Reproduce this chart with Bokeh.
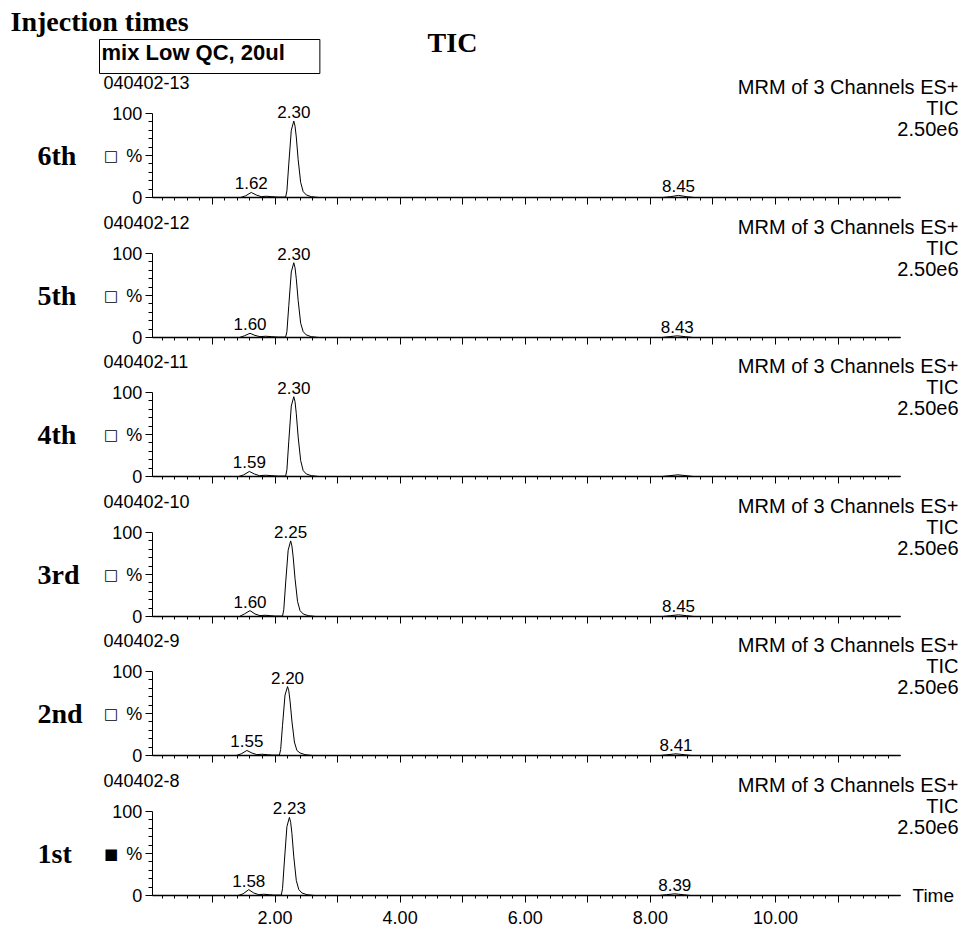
from bokeh.plotting import figure
from bokeh.layouts import column
from bokeh.models import Range1d, FixedTicker, Label, LinearAxis
from bokeh.embed import file_html
from bokeh.resources import INLINE

SANS = "Liberation Sans"
SERIF = "Liberation Serif"

# ---------------- data ----------------
injection_order = ["6th", "5th", "4th", "3rd", "2nd", "1st"]
run_ids = ["040402-13", "040402-12", "040402-11", "040402-10", "040402-9", "040402-8"]
markers = ["\u25a1", "\u25a1", "\u25a1", "\u25a1", "\u25a1", "\u25a0"]
header_lines = ["MRM of 3 Channels ES+", "TIC", "2.50e6"]
title_left = "Injection times"
title_mid = "TIC"
sample_name = "mix Low QC, 20ul"

x_major_ticks = [1, 2, 3, 4, 5, 6, 7, 8, 9, 10, 11]
x_minor_ticks = [0.2, 0.4, 0.6, 0.8, 1.2, 1.4, 1.6, 1.8, 2.2, 2.4, 2.6, 2.8,
                 3.2, 3.4, 3.6, 3.8, 4.2, 4.4, 4.6, 4.8, 5.2, 5.4, 5.6, 5.8,
                 6.2, 6.4, 6.6, 6.8, 7.2, 7.4, 7.6, 7.8, 8.2, 8.4, 8.6, 8.8,
                 9.2, 9.4, 9.6, 9.8, 10.2, 10.4, 10.6, 10.8, 11.2, 11.4, 11.6, 11.8]
x_tick_labels = {1: "", 2: "2.00", 3: "", 4: "4.00", 5: "", 6: "6.00",
                 7: "", 8: "8.00", 9: "", 10: "10.00", 11: ""}
y_major_ticks = [0, 50, 100]
y_minor_ticks = [10, 20, 30, 40, 60, 70, 80, 90]
y_tick_labels = {0: "0", 50: "%", 100: "100"}

# retention time (min) / relative intensity (%)
t_6th = [0.04, 1.45, 1.53, 1.62, 1.70, 1.78, 1.86, 1.95, 2.05, 2.17, 2.19, 2.22, 2.26, 2.30,
         2.32, 2.34, 2.37, 2.41, 2.45, 2.50, 2.58, 2.70, 8.20, 8.32, 8.45, 8.58, 8.70, 12.0]
v_6th = [0, 0, 2, 6, 3, 1, 1.5, 1, 0.5, 0.5, 8, 40, 80, 91,
         85, 72, 45, 18, 7, 3, 1, 0, 0, 1, 2.5, 1, 0, 0]

t_5th = [0.04, 1.43, 1.51, 1.60, 1.68, 1.76, 1.85, 1.95, 2.05, 2.17, 2.19, 2.22, 2.26, 2.30,
         2.32, 2.34, 2.37, 2.41, 2.45, 2.50, 2.58, 2.70, 8.18, 8.30, 8.43, 8.56, 8.68, 12.0]
v_5th = [0, 0, 2, 5, 2.5, 1, 1.5, 1, 0.5, 0.5, 7, 38, 78, 89,
         83, 70, 44, 17, 7, 3, 1, 0, 0, 1, 2, 1, 0, 0]

t_4th = [0.04, 1.42, 1.50, 1.59, 1.67, 1.75, 1.85, 1.95, 2.05, 2.17, 2.19, 2.22, 2.26, 2.30,
         2.32, 2.34, 2.37, 2.41, 2.45, 2.50, 2.58, 2.70, 8.19, 8.31, 8.44, 8.57, 8.69, 12.0]
v_4th = [0, 0, 2, 6, 3, 1, 1.5, 1, 0.5, 0.5, 8, 42, 84, 95,
         89, 75, 47, 19, 7, 3, 1, 0, 0, 1, 2, 1, 0, 0]

t_3rd = [0.04, 1.43, 1.51, 1.60, 1.68, 1.76, 1.84, 1.93, 2.00, 2.12, 2.14, 2.17, 2.21, 2.25,
         2.27, 2.29, 2.32, 2.36, 2.40, 2.45, 2.53, 2.65, 8.20, 8.32, 8.45, 8.58, 8.70, 12.0]
v_3rd = [0, 0, 3, 7, 3, 1, 1.5, 1, 0.5, 0.5, 8, 40, 79, 90,
         84, 71, 45, 18, 7, 3, 1, 0, 0, 1, 2, 1, 0, 0]

t_2nd = [0.04, 1.38, 1.46, 1.55, 1.63, 1.71, 1.79, 1.88, 1.95, 2.07, 2.09, 2.12, 2.16, 2.20,
         2.22, 2.24, 2.27, 2.31, 2.35, 2.40, 2.48, 2.60, 8.16, 8.28, 8.41, 8.54, 8.66, 12.0]
v_2nd = [0, 0, 2, 6, 3, 1, 1.5, 1, 0.5, 0.5, 7, 36, 72, 82,
         77, 65, 41, 16, 6, 3, 1, 0, 0, 1, 2, 1, 0, 0]

t_1st = [0.04, 1.41, 1.49, 1.58, 1.66, 1.74, 1.82, 1.91, 1.98, 2.10, 2.12, 2.15, 2.19, 2.23,
         2.25, 2.27, 2.30, 2.34, 2.38, 2.43, 2.51, 2.63, 8.14, 8.26, 8.39, 8.52, 8.64, 12.0]
v_1st = [0, 0, 2, 7, 3, 1, 1.5, 1, 0.5, 0.5, 8, 41, 82, 93,
         87, 74, 46, 18, 7, 3, 1, 0, 0, 1, 2, 1, 0, 0]

# labelled peaks: (retention time, intensity at apex, label)
peaks_6th = [(1.62, 6, "1.62"), (2.30, 91, "2.30"), (8.45, 2.5, "8.45")]
peaks_5th = [(1.60, 5, "1.60"), (2.30, 89, "2.30"), (8.43, 2, "8.43")]
peaks_4th = [(1.59, 6, "1.59"), (2.30, 95, "2.30")]
peaks_3rd = [(1.60, 7, "1.60"), (2.25, 90, "2.25"), (8.45, 2, "8.45")]
peaks_2nd = [(1.55, 6, "1.55"), (2.20, 82, "2.20"), (8.41, 2, "8.41")]
peaks_1st = [(1.58, 7, "1.58"), (2.23, 93, "2.23"), (8.39, 2, "8.39")]

traces = [(t_6th, v_6th), (t_5th, v_5th), (t_4th, v_4th),
          (t_3rd, v_3rd), (t_2nd, v_2nd), (t_1st, v_1st)]
peaks = [peaks_6th, peaks_5th, peaks_4th, peaks_3rd, peaks_2nd, peaks_1st]

# ---------------- layout ----------------
FIG_W = 962
PX_PER_MIN = 62.56          # horizontal pixels per minute
X0_PX = 149.4               # page x of t = 0
PX_PER_UNIT = 0.84          # vertical pixels per 1 %
AXIS_T0, AXIS_T1 = 0.037, 12.0
X_RANGE = ((0 - X0_PX) / PX_PER_MIN, (FIG_W - X0_PX) / PX_PER_MIN)

space_above = [197, 127, 126, 127, 126, 127]   # px above each baseline
space_below = [13, 13, 13, 13, 13, 31]         # px below each baseline


def xd(page_x):
    """page x pixel -> minutes"""
    return (page_x - X0_PX) / PX_PER_MIN


def yd(dy_px):
    """pixels above the baseline -> % units"""
    return dy_px / PX_PER_UNIT


def style_axis(ax):
    ax.axis_line_color = "black"
    ax.major_tick_line_color = "black"
    ax.minor_tick_line_color = "black"
    ax.major_tick_in = 0
    ax.minor_tick_in = 0
    ax.major_label_text_font = SANS
    ax.major_label_text_font_size = "18px"
    ax.major_label_text_color = "black"


figs = []
n = len(traces)
for i in range(n):
    first = i == 0
    last = i == n - 1
    above = space_above[i]
    below = space_below[i]
    p = figure(width=FIG_W, height=above + below,
               x_range=Range1d(*X_RANGE),
               y_range=Range1d(-yd(below), yd(above)),
               x_axis_location=None, y_axis_location=None,
               output_backend="svg", toolbar_location=None, title=None,
               min_border=0, min_border_left=0, min_border_right=0,
               min_border_top=0, min_border_bottom=0)
    p.outline_line_color = None
    p.grid.visible = False
    p.background_fill_color = "white"
    p.border_fill_color = "white"

    # time axis on the baseline
    xa = LinearAxis(fixed_location=0)
    xa.ticker = FixedTicker(ticks=x_major_ticks, minor_ticks=x_minor_ticks)
    xa.major_label_overrides = x_tick_labels
    xa.bounds = (AXIS_T0, AXIS_T1)
    style_axis(xa)
    xa.axis_line_width = 1.4
    xa.major_tick_out = 7
    xa.minor_tick_out = 3
    xa.major_label_standoff = 8
    if not last:
        xa.major_label_text_alpha = 0
    p.add_layout(xa, "below")

    # % axis at the start of the time axis
    ya = LinearAxis(fixed_location=AXIS_T0)
    ya.ticker = FixedTicker(ticks=y_major_ticks, minor_ticks=y_minor_ticks)
    ya.major_label_overrides = y_tick_labels
    ya.bounds = (0, 100)
    style_axis(ya)
    ya.axis_line_width = 1
    ya.major_tick_out = 7
    ya.minor_tick_out = 4
    ya.major_label_standoff = 3
    p.add_layout(ya, "left")

    t, v = traces[i]
    p.line(t, v, line_color="black", line_width=1)

    for (pt, pv, lab) in peaks[i]:
        p.add_layout(Label(x=pt, y=pv, text=lab, text_align="center",
                           text_baseline="alphabetic", y_offset=9,
                           text_font=SANS, text_font_size="17px", text_color="black"))

    # panel headers
    p.add_layout(Label(x=xd(103), y=yd(115), text=run_ids[i], text_align="left",
                       text_baseline="middle", text_font=SANS, text_font_size="18px",
                       text_color="black"))
    for k, line in enumerate(header_lines):
        p.add_layout(Label(x=xd(958), y=yd(111 - 21 * k), text=line, text_align="right",
                           text_baseline="middle", text_font=SANS, text_font_size="20px",
                           text_color="black"))
    # left side labels
    p.add_layout(Label(x=xd(37), y=50, text=injection_order[i], text_align="left",
                       text_baseline="middle", text_font=SERIF, text_font_style="bold",
                       text_font_size="28px", text_color="black"))
    p.add_layout(Label(x=xd(110.5), y=50, text=markers[i], text_align="center",
                       text_baseline="middle", text_font="DejaVu Sans",
                       text_font_size="15px", text_color="black"))

    if first:
        p.add_layout(Label(x=xd(10), y=yd(176), text=title_left, text_align="left",
                           text_baseline="middle", text_font=SERIF, text_font_style="bold",
                           text_font_size="28px", text_color="black"))
        p.add_layout(Label(x=xd(452), y=yd(155), text=title_mid, text_align="center",
                           text_baseline="middle", text_font=SERIF, text_font_style="bold",
                           text_font_size="28px", text_color="black"))
        p.add_layout(Label(x=xd(99), y=yd(158), text=sample_name, text_align="left",
                           text_baseline="top", text_font=SANS, text_font_style="bold",
                           text_font_size="22px", text_color="black",
                           border_line_color="black", border_line_width=1,
                           background_fill_color="white",
                           padding=(2, 35, 0, 9)))
    if last:
        p.add_layout(Label(x=xd(912), y=0, text="Time", text_align="left",
                           text_baseline="middle", text_font=SANS,
                           text_font_size="19px", text_color="black"))
    figs.append(p)

layout = column(*figs, spacing=0)
open("out.html", "w").write(file_html(layout, INLINE))
